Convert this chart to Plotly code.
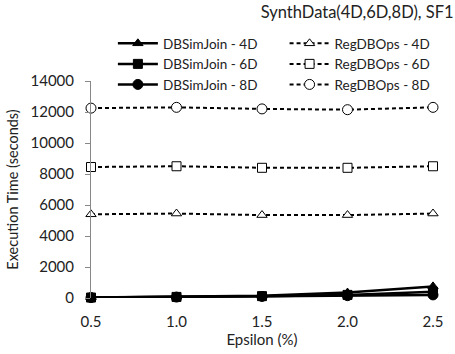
import plotly.graph_objects as go

eps = [0.5, 1.0, 1.5, 2.0, 2.5]
eps_labels = ["0.5", "1.0", "1.5", "2.0", "2.5"]
db_4d = [40, 80, 150, 350, 750]
db_6d = [30, 70, 120, 200, 400]
db_8d = [25, 60, 100, 150, 200]
reg_4d = [5400, 5450, 5350, 5350, 5450]
reg_6d = [8450, 8500, 8400, 8400, 8500]
reg_8d = [12250, 12300, 12200, 12150, 12300]

FONT = "Lato"
fig = go.Figure()

series = [
    ("DBSimJoin - 4D", db_4d, "solid", "triangle-up", False, "legend"),
    ("DBSimJoin - 6D", db_6d, "solid", "square", False, "legend"),
    ("DBSimJoin - 8D", db_8d, "solid", "circle", False, "legend"),
    ("RegDBOps - 4D", reg_4d, "dash", "triangle-up", True, "legend2"),
    ("RegDBOps - 6D", reg_6d, "dash", "square", True, "legend2"),
    ("RegDBOps - 8D", reg_8d, "dash", "circle", True, "legend2"),
]
for name, vals, dash, sym, open_, leg in series:
    fig.add_trace(go.Scatter(
        x=eps, y=vals, name=name, mode="lines+markers", legend=leg,
        line=dict(color="black", width=2.5 if dash == "solid" else 2,
                  dash="solid" if dash == "solid" else "4px,3px"),
        marker=dict(symbol=sym, size=10 if sym == "circle" else 9,
                    color="white" if open_ else "black",
                    line=dict(color="black", width=1)),
        cliponaxis=False,
    ))

leg_common = dict(orientation="v", y=1.244, yanchor="top", xanchor="left",
                  tracegroupgap=0, itemwidth=40,
                  font=dict(family=FONT, size=13.5, color="#222"),
                  bgcolor="rgba(0,0,0,0)")

fig.update_layout(
    width=455, height=354,
    margin=dict(l=91, r=18, t=81, b=56),
    paper_bgcolor="white", plot_bgcolor="white",
    font=dict(family=FONT, size=14, color="#222"),
    title=dict(text="SynthData(4D,6D,8D), SF1", x=0.997, xanchor="right",
               y=0.965, yanchor="middle", font=dict(family=FONT, size=16.5, color="#222")),
    legend=dict(x=0.064, **leg_common),
    legend2=dict(x=0.566, **leg_common),
    showlegend=True,
)
fig.update_xaxes(range=[0.5, 2.5], tickvals=eps, ticktext=eps_labels,
                 showline=False, showgrid=False, zeroline=False, ticks="",
                 ticklabelstandoff=13,
                 title=dict(text="Epsilon (%)", standoff=1, font=dict(size=15)),
                 tickfont=dict(size=15))
fig.update_yaxes(range=[0, 14000], dtick=2000, tickformat="d",
                 showline=True, linecolor="#888", linewidth=1,
                 showgrid=False, zeroline=False, ticks="outside", ticklen=5, tickcolor="#888",
                 ticklabelstandoff=8,
                 title=dict(text="Execution Time (seconds)", standoff=8, font=dict(size=14.5)),
                 tickfont=dict(size=15))

fig.write_html("out.html", config={"displayModeBar": False},
               post_script="document.body.style.margin='0px';")
